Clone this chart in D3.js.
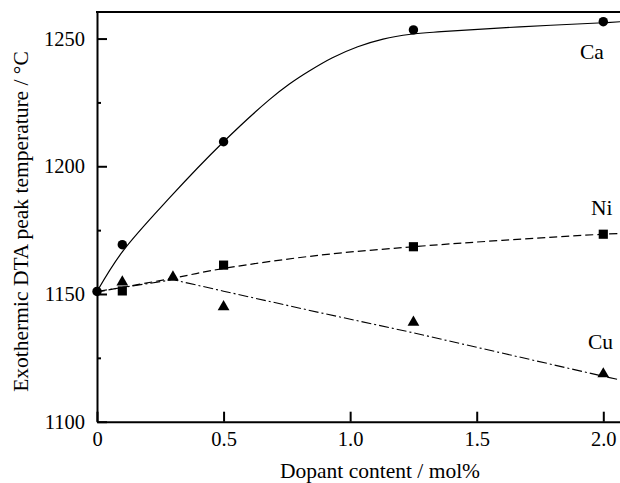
<!DOCTYPE html>
<html>
<head>
<meta charset="utf-8">
<script src="https://cdn.jsdelivr.net/npm/d3@7"></script>
<style>
  body { margin: 0; background: #fff; }
  text { font-family: "Liberation Serif", "Times New Roman", serif; fill: #000; }
</style>
</head>
<body>
<div id="chart"></div>
<script>
// measured points
var caX = [0, 0.1, 0.5, 1.25, 2.0];
var caY = [1151, 1169.3, 1209.6, 1253.4, 1256.6];
var niX = [0.1, 0.5, 1.25, 2.0];
var niY = [1151.2, 1161.3, 1168.5, 1173.4];
var cuX = [0.1, 0.3, 0.5, 1.25, 2.0];
var cuY = [1154.7, 1156.6, 1145.0, 1138.9, 1118.7];

// fitted curves
var caFitX = [0, 0.1, 0.29, 0.5, 0.68, 0.76, 0.84, 0.93, 1.03, 1.13, 1.24, 1.36, 1.67, 2.0, 2.07];
var caFitY = [1151, 1166.5, 1188, 1209.6, 1226, 1232.2, 1237.4, 1242.5, 1246.8, 1249.8, 1251.7, 1252.7, 1254.6, 1256.2, 1256.6];
var niFitX = [0, 0.3, 0.5, 0.88, 1.25, 1.6, 2.0, 2.07];
var niFitY = [1150.8, 1156.2, 1160.0, 1165.2, 1168.5, 1171, 1173.4, 1173.7];
var cuFitX = [0, 0.3, 0.5, 0.88, 1.25, 2.0, 2.07];
var cuFitY = [1151, 1155.6, 1151.1, 1142.7, 1134.8, 1117.8, 1116.3];

var xTicks = [0, 0.5, 1.0, 1.5, 2.0];
var xTickLabels = ["0", "0.5", "1.0", "1.5", "2.0"];
var yTicks = [1100, 1150, 1200, 1250];
var yMinorTicks = [1125, 1175, 1225];

var width = 620, height = 483;
var mLeft = 97, mTop = 12, mRight = 620, mBottom = 421.7;

var x = d3.scaleLinear().domain([0, 2.066]).range([mLeft, mRight]);
var y = d3.scaleLinear().domain([1100, 1260.4]).range([mBottom, mTop]);

var svg = d3.select("#chart").append("svg")
  .attr("width", width)
  .attr("height", height);

svg.append("defs").append("clipPath").attr("id", "clip")
  .append("rect")
  .attr("x", mLeft).attr("y", mTop)
  .attr("width", mRight - mLeft).attr("height", mBottom - mTop);

// axes
svg.append("g")
  .attr("transform", "translate(" + mLeft + ",0)")
  .call(d3.axisLeft(y).tickValues(yTicks).tickSize(-10).tickSizeOuter(0).tickPadding(12).tickFormat(d3.format("d")));
svg.append("g")
  .attr("transform", "translate(" + mLeft + ",0)")
  .call(d3.axisLeft(y).tickValues(yMinorTicks).tickSize(-4).tickSizeOuter(0).tickFormat(""))
  .select(".domain").remove();

svg.append("g")
  .attr("transform", "translate(0," + mBottom + ")")
  .call(d3.axisBottom(x).tickValues(xTicks).tickSize(-10).tickSizeOuter(0).tickPadding(10)
    .tickFormat(function(d, i) { return xTickLabels[i]; }));

svg.selectAll(".tick text")
  .style("font-family", "'Liberation Serif', serif")
  .style("font-size", "20.5px");
svg.selectAll(".domain, .tick line")
  .attr("stroke", "#000")
  .attr("stroke-width", 2);

svg.append("line")
  .attr("x1", mLeft - 1).attr("x2", mRight)
  .attr("y1", mTop).attr("y2", mTop)
  .attr("stroke", "#000").attr("stroke-width", 2);

// axis titles
svg.append("text")
  .attr("x", 380).attr("y", 478)
  .attr("text-anchor", "middle")
  .style("font-size", "21.5px")
  .text("Dopant content / mol%");

svg.append("text")
  .attr("transform", "translate(28," + 221.5 + ") rotate(-90)")
  .attr("text-anchor", "middle")
  .style("font-size", "21.5px")
  .text("Exothermic DTA peak temperature / °C");

// fit lines
var line = d3.line()
  .x(function(d) { return x(d[0]); })
  .y(function(d) { return y(d[1]); })
  .curve(d3.curveCatmullRom.alpha(0.5));

var plot = svg.append("g").attr("clip-path", "url(#clip)");

function pairs(xs, ys) { return xs.map(function(v, i) { return [v, ys[i]]; }); }

plot.append("path")
  .datum(pairs(caFitX, caFitY))
  .attr("d", line)
  .attr("fill", "none").attr("stroke", "#000").attr("stroke-width", 1.2);

plot.append("path")
  .datum(pairs(niFitX, niFitY))
  .attr("d", line)
  .attr("fill", "none").attr("stroke", "#000").attr("stroke-width", 1.2)
  .attr("stroke-dasharray", "8,4");

plot.append("path")
  .datum(pairs(cuFitX, cuFitY))
  .attr("d", line.curve(d3.curveLinear))
  .attr("fill", "none").attr("stroke", "#000").attr("stroke-width", 1.1)
  .attr("stroke-dasharray", "10,3,2,3");

// markers (drawn unclipped so the one on the axis stays whole)
var marks = svg.append("g");

marks.selectAll(".ca").data(pairs(caX, caY)).enter()
  .append("path").attr("class", "ca")
  .attr("d", d3.symbol(d3.symbolCircle, 70))
  .attr("transform", function(d) { return "translate(" + x(d[0]) + "," + y(d[1]) + ")"; });

marks.selectAll(".ni").data(pairs(niX, niY)).enter()
  .append("path").attr("class", "ni")
  .attr("d", d3.symbol(d3.symbolSquare, 84))
  .attr("transform", function(d) { return "translate(" + x(d[0]) + "," + y(d[1]) + ")"; });

marks.selectAll(".cu").data(pairs(cuX, cuY)).enter()
  .append("path").attr("class", "cu")
  .attr("d", d3.symbol(d3.symbolTriangle, 60))
  .attr("transform", function(d) { return "translate(" + x(d[0]) + "," + y(d[1]) + ")"; });

// series labels
svg.append("text").attr("x", 580).attr("y", 59).style("font-size", "21.5px").text("Ca");
svg.append("text").attr("x", 591).attr("y", 215).style("font-size", "21.5px").text("Ni");
svg.append("text").attr("x", 588).attr("y", 349).style("font-size", "21.5px").text("Cu");
</script>
</body>
</html>
